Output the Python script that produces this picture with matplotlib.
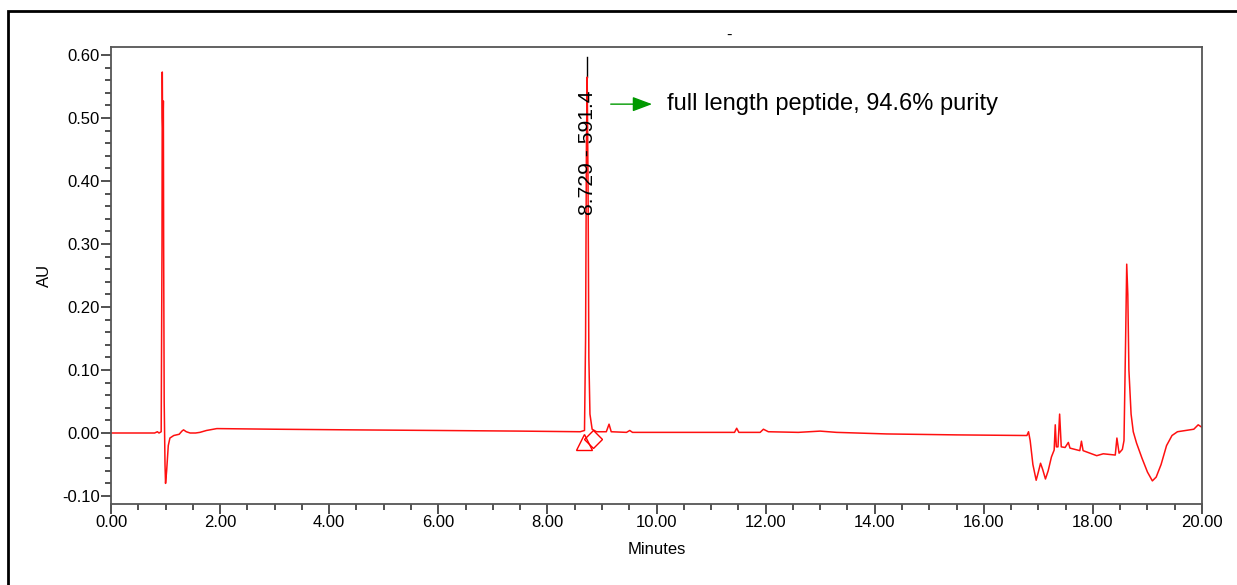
import numpy as np
import matplotlib.pyplot as plt
from matplotlib.patches import Rectangle

plt.rcParams['font.family'] = ['Liberation Sans', 'DejaVu Sans']

# chromatogram trace
time = [0.00, 0.80, 0.85, 0.88, 0.92, 0.935, 0.94, 0.945, 0.95, 0.955, 0.96, 0.965,
        0.975, 0.99, 1.00, 1.02, 1.05, 1.08, 1.15, 1.25, 1.30, 1.33, 1.38, 1.45, 1.55, 1.63,
        1.75, 1.94, 3.00, 4.38, 6.00, 7.50, 8.60, 8.68, 8.70, 8.715, 8.729, 8.745,
        8.76, 8.78, 8.82, 8.90, 9.08, 9.13, 9.17, 9.45, 9.51, 9.56, 10.5, 11.16,
        11.43, 11.47, 11.51, 11.90, 11.96, 12.05, 12.6, 13.0, 13.3, 14.22, 15.5,
        16.79, 16.82, 16.85, 16.90, 16.96, 17.00, 17.04, 17.08, 17.13, 17.18, 17.24,
        17.29, 17.31, 17.33, 17.36, 17.39, 17.42, 17.49, 17.55, 17.58, 17.76, 17.79,
        17.82, 18.07, 18.19, 18.41, 18.44, 18.48, 18.54, 18.57, 18.60, 18.62, 18.64,
        18.66, 18.70, 18.74, 18.80, 18.90, 19.00, 19.09, 19.16, 19.25, 19.35, 19.45,
        19.55, 19.70, 19.85, 19.93, 20.0]
au = [0.000, 0.000, 0.002, 0.000, 0.002, 0.30, 0.573, 0.50, 0.48, 0.50, 0.527, 0.30,
      0.05, -0.05, -0.080, -0.06, -0.02, -0.008, -0.004, -0.002, 0.003, 0.005, 0.002, 0.000,
      0.000, 0.001, 0.004, 0.007, 0.006, 0.005, 0.004, 0.003, 0.002, 0.004, 0.15, 0.45,
      0.565, 0.40, 0.12, 0.03, 0.006, 0.002, 0.002, 0.014, 0.002, 0.001, 0.004, 0.001,
      0.001, 0.001, 0.001, 0.0075, 0.001, 0.001, 0.006, 0.002, 0.001, 0.003, 0.001,
      -0.0015, -0.003, -0.004, 0.002, -0.012, -0.050, -0.075, -0.062, -0.048, -0.058,
      -0.073, -0.060, -0.038, -0.027, 0.013, -0.022, -0.022, 0.030, -0.022, -0.023,
      -0.015, -0.024, -0.028, -0.013, -0.028, -0.036, -0.033, -0.035, -0.008, -0.032,
      -0.026, -0.012, 0.15, 0.268, 0.22, 0.10, 0.030, 0.002, -0.016, -0.040, -0.062,
      -0.076, -0.070, -0.050, -0.020, -0.004, 0.002, 0.004, 0.006, 0.013, 0.009]

# integrated peak
peak_rt = 8.729
peak_area = 591.4
peak_apex = 0.597
peak_start = (8.68, -0.014)
peak_end = (8.84, -0.0095)

fig = plt.figure(figsize=(12.37, 5.85), dpi=100)
ax = fig.add_axes([111/1237, 1 - 504/585, 1091/1237, 457/585])

ax.plot([peak_rt, peak_rt], [0.565, peak_apex], color='black', lw=1.0)
ax.plot(time, au, color='#ff1010', lw=1.1)
ax.plot(*peak_start, marker='^', ms=12, mfc='none', mec='red', mew=1.0)
ax.plot(*peak_end, marker='D', ms=9, mfc='none', mec='red', mew=1.0)

ax.text(peak_rt + 0.015, 0.346, f"{peak_rt:.3f} - {peak_area:.1f}", rotation=90,
        ha='center', va='bottom', fontsize=15.2)
ax.annotate('', xy=(9.97, 0.522), xytext=(9.11, 0.522),
            arrowprops=dict(arrowstyle='-|>,head_length=1.2,head_width=0.45',
                            color='#009900', lw=1.0))
ax.text(10.19, 0.522, 'full length peptide, 94.6% purity', ha='left', va='center',
        fontsize=17)

ax.set_xlim(0, 20)
ax.set_ylim(-0.1127, 0.6127)
ax.set_xticks(np.arange(0, 20.01, 2))
ax.set_xticks(np.arange(0, 20.01, 0.5), minor=True)
ax.set_yticks(np.arange(-0.1, 0.601, 0.1))
ax.set_yticks(np.arange(-0.1, 0.601, 0.02), minor=True)
ax.set_xticklabels([f"{v:.2f}" for v in np.arange(0, 20.01, 2)])
ax.set_yticklabels([f"{v:.2f}" for v in np.arange(-0.1, 0.601, 0.1)])
ax.tick_params(which='major', length=7, width=1.2, labelsize=12, pad=1, color='#333333')
ax.tick_params(which='minor', length=4, width=1.2, color='#333333')
for s in ax.spines.values():
    s.set_color('#555555')
    s.set_linewidth(1.3)

ax.set_xlabel('Minutes', fontsize=12, labelpad=8.5)
ax.set_ylabel('AU', fontsize=12, labelpad=7)

fig.text(729/1237, 1 - 35/585, '-', fontsize=12, ha='center', va='center')
fig.patches.append(Rectangle((8/1237, -0.1), 1.2, (585 - 11)/585 + 0.1, fill=False,
                             lw=2, edgecolor='black', transform=fig.transFigure))

fig.savefig('out.png', dpi=100)
